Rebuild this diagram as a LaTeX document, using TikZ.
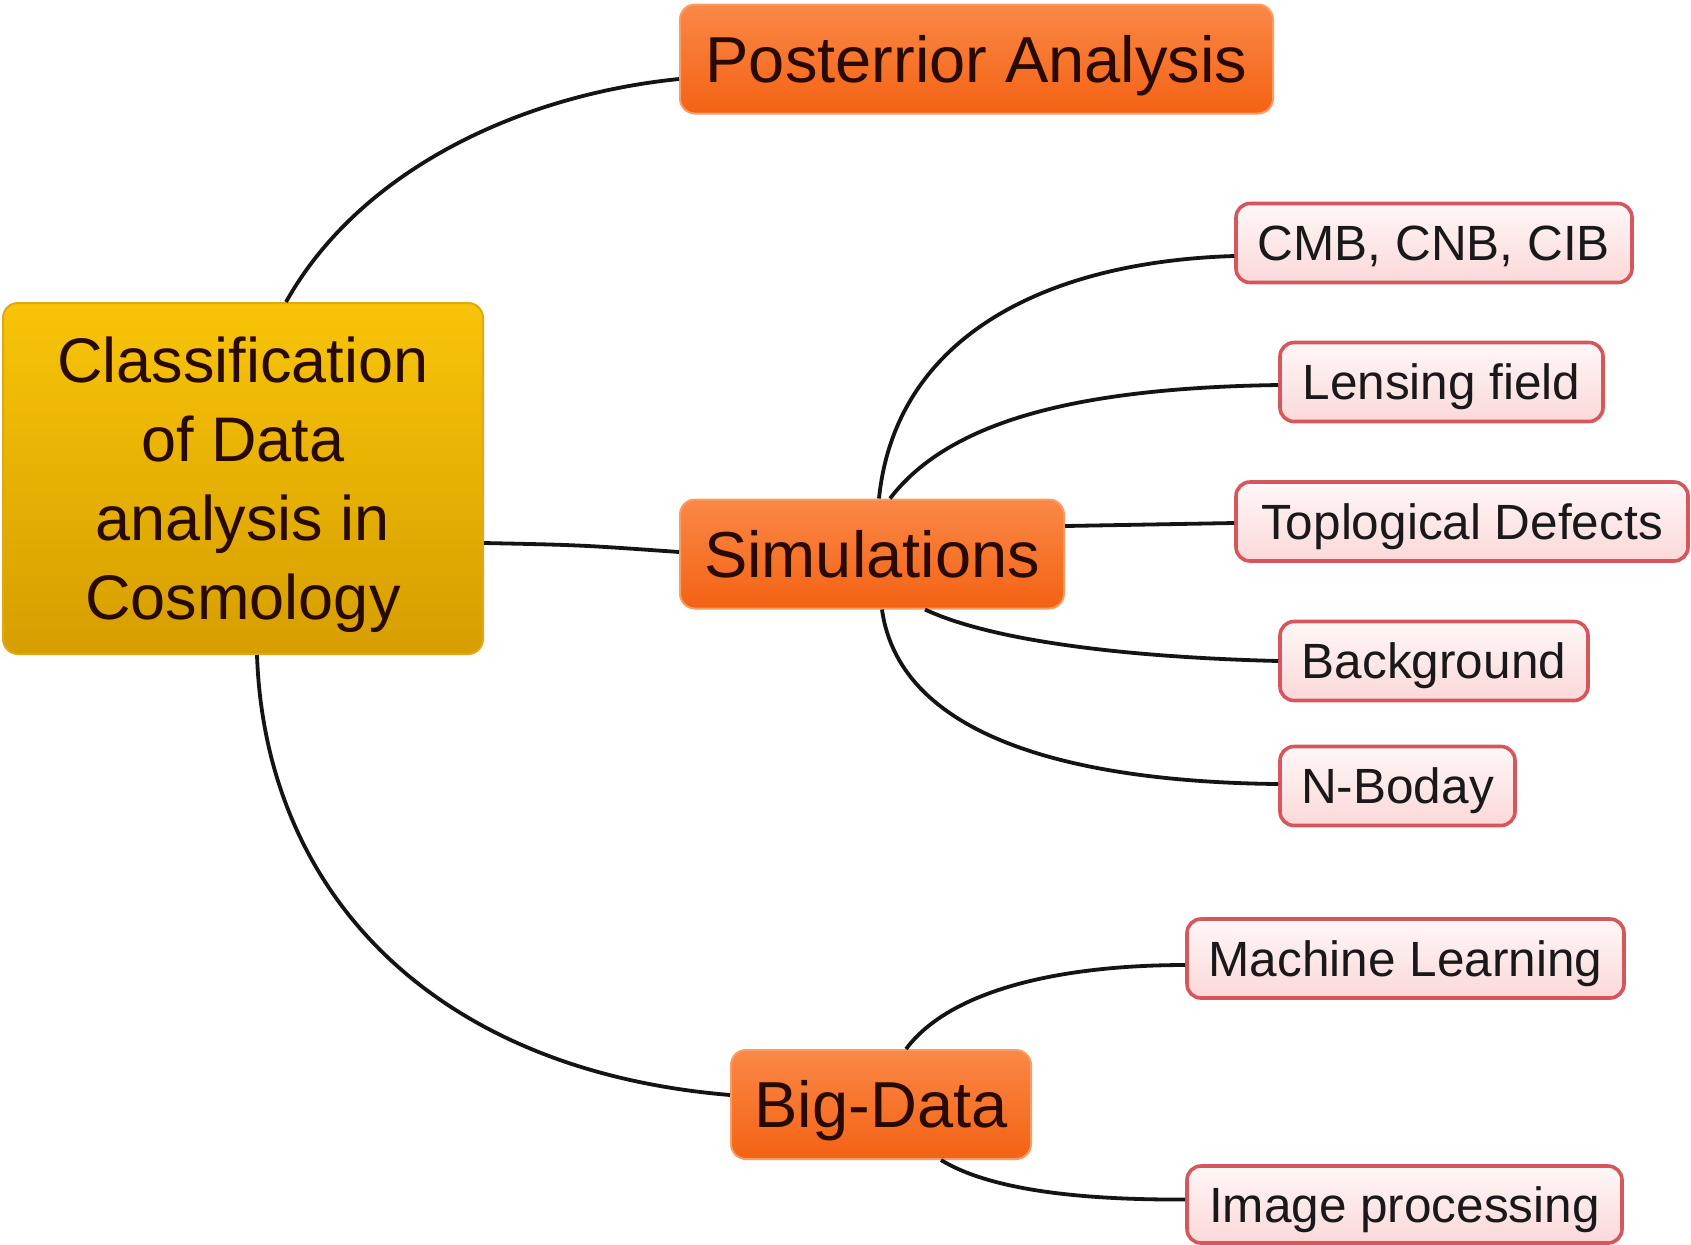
\documentclass[tikz,border=0pt]{standalone}
\usepackage{fontspec}
\setmainfont{Liberation Sans}
\usetikzlibrary{calc}
\definecolor{goldtop}{RGB}{248,196,8}
\definecolor{goldbot}{RGB}{214,158,0}
\definecolor{goldline}{RGB}{226,168,20}
\definecolor{orgtop}{RGB}{250,136,70}
\definecolor{orgbot}{RGB}{244,98,20}
\definecolor{orgline}{RGB}{250,156,100}
\definecolor{pinktop}{RGB}{255,247,247}
\definecolor{pinkbot}{RGB}{251,216,216}
\definecolor{pinkline}{RGB}{214,86,92}
\definecolor{inkdark}{RGB}{40,10,0}
\begin{document}
\begin{tikzpicture}[x=0.5pt,y=-0.5pt,
  rootbox/.style={rounded corners=7.5pt, top color=goldtop, bottom color=goldbot,
    draw=goldline, line width=1pt, align=center, text=inkdark,
    font=\fontsize{31.5}{39.5}\selectfont, minimum width=240pt,
    minimum height=175.5pt, inner sep=0pt, text depth=0pt},
  mainbox/.style={rounded corners=7.5pt, top color=orgtop, bottom color=orgbot,
    draw=orgline, line width=1pt, text=inkdark,
    font=\fontsize{32.5}{39}\selectfont, minimum height=54.5pt, inner sep=0pt,
    text height=23.4pt, text depth=0pt},
  leafbox/.style={rounded corners=7pt, top color=pinktop, bottom color=pinkbot,
    draw=pinkline, line width=1.8pt, text=black!90,
    font=\fontsize{24.75}{30}\selectfont, minimum height=39.5pt, inner sep=0pt,
    text height=17.8pt, text depth=0pt},
  link/.style={draw=black!92, line width=1.9pt}
]
\fill[white] (0,0) rectangle (1691,1244);
\useasboundingbox (0,0) rectangle (1691,1244);

% root of the map
\node[rootbox] (root) at (243,478.5) {Classification\\of Data\\analysis in\\Cosmology};

% first level branches
\node[mainbox, minimum width=296.5pt] (post) at (976.5,59) {Posterrior Analysis};
\node[mainbox, minimum width=192pt] (sim) at (872,554) {Simulations};
\node[mainbox, minimum width=150pt] (big) at (881,1104.5) {Big-Data};

% leaves
\node[leafbox, minimum width=198pt] (cmb) at (1434,243) {CMB, CNB, CIB};
\node[leafbox, minimum width=161.5pt] (lens) at (1441.5,382) {Lensing field};
\node[leafbox, minimum width=226pt] (topo) at (1462,521.5) {Toplogical Defects};
\node[leafbox, minimum width=154pt] (bg) at (1434,661) {Background};
\node[leafbox, minimum width=117.5pt] (nb) at (1397.5,786) {N-Boday};
\node[leafbox, minimum width=218.5pt] (ml) at (1405.5,958.5) {Machine Learning};
\node[leafbox, minimum width=217.5pt, minimum height=38.5pt] (img) at (1404.5,1204.5) {Image processing};

% connectors from the root
\draw[link] ($(root.north)+(43,0)$) .. controls (360,170) and (520,95) .. ($(post.west)+(0,20)$);
\draw[link] ($(root.east)+(0,64.5)$) .. controls (580,545) .. ($(sim.west)+(0,-2)$);
\draw[link] ($(root.south)+(14,0)$) .. controls (265,890) and (430,1070) .. ($(big.west)+(0,-9.5)$);

% connectors of the simulations branch
\draw[link] ($(sim.north)+(7,0)$) .. controls (895,340) and (1040,262) .. ($(cmb.west)+(0,13)$);
\draw[link] ($(sim.north)+(18,0)$) .. controls (950,420) and (1080,388) .. ($(lens.west)+(0,3)$);
\draw[link] ($(sim.east)+(0,-28)$) -- ($(topo.west)+(0,1.5)$);
\draw[link] ($(sim.south)+(53,0)$) .. controls (990,640) and (1120,657) .. (bg.west);
\draw[link] ($(sim.south)+(10,0)$) .. controls (900,740) and (1080,782) .. ($(nb.west)+(0,-2)$);

% connectors of the big-data branch
\draw[link] ($(big.north)+(25,0)$) .. controls (950,990) and (1060,965) .. ($(ml.west)+(0,6.5)$);
\draw[link] ($(big.south)+(60,0)$) .. controls (990,1190) and (1080,1200) .. ($(img.west)+(0,-5)$);
\end{tikzpicture}
\end{document}
